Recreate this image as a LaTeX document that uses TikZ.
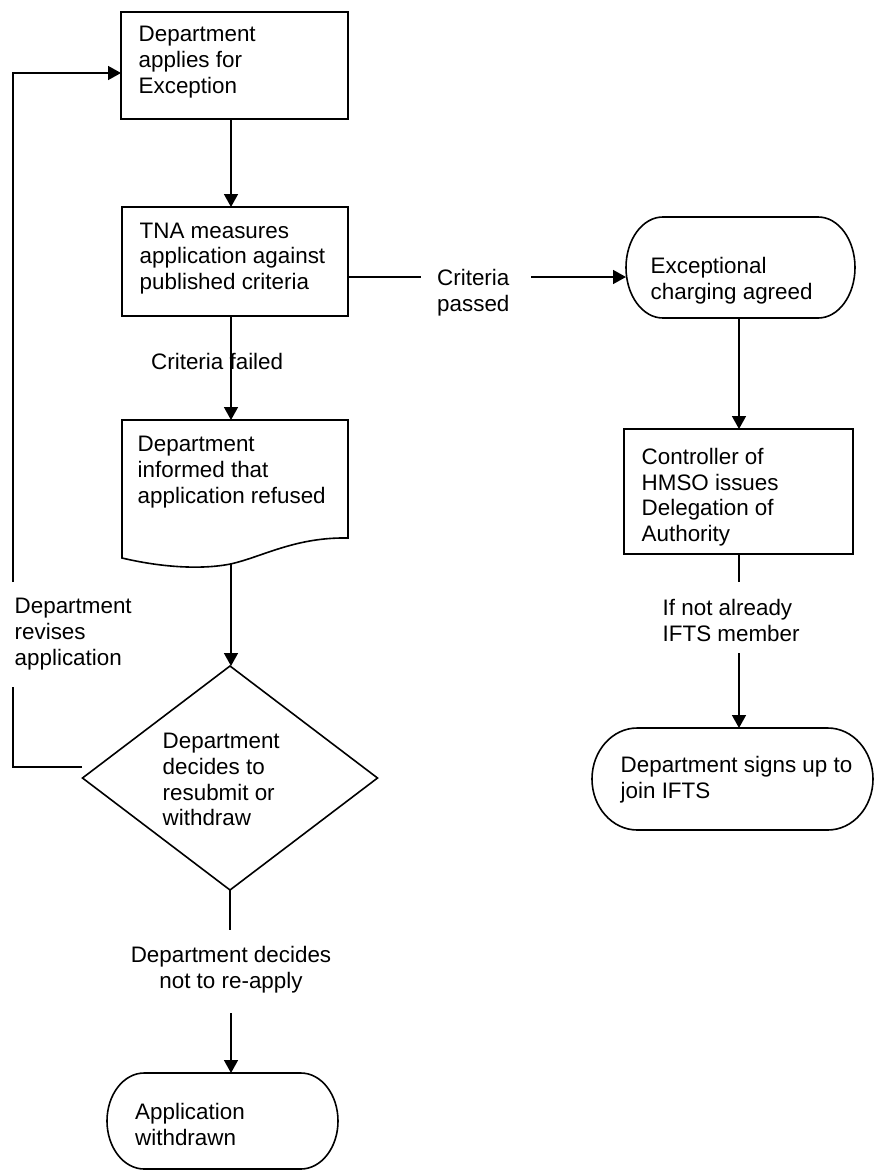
\documentclass[tikz,border=0pt]{standalone}
\usepackage{fontspec}
\setmainfont{Liberation Sans}
\usetikzlibrary{arrows.meta,shapes.geometric,calc}
\newcommand\tfont{\fontsize{22.4}{25.7}\selectfont}
\newcommand\terminal[5]{%
  \pgfmathsetmacro\tmL{#2}\pgfmathsetmacro\tmT{#3}%
  \pgfmathsetmacro\tmR{#4}\pgfmathsetmacro\tmB{#5}%
  \pgfmathsetmacro\tmW{\tmR-\tmL}\pgfmathsetmacro\tmH{\tmB-\tmT}%
  \pgfmathsetmacro\tmRx{0.161*\tmW}\pgfmathsetmacro\tmRy{\tmH/2}%
  \pgfmathsetmacro\tmM{(\tmT+\tmB)/2}%
  \pgfmathsetmacro\tmKx{0.5523*\tmRx}\pgfmathsetmacro\tmKy{0.5523*\tmRy}%
  \node[inner sep=0pt, outer sep=0pt, minimum width=\tmW pt, minimum height=\tmH pt, anchor=north west] (#1) at (\tmL,\tmT) {};%
  \draw[ln] (\tmL+\tmRx,\tmT) -- (\tmR-\tmRx,\tmT)
    .. controls (\tmR-\tmRx+\tmKx,\tmT) and (\tmR,\tmM-\tmKy) .. (\tmR,\tmM)
    .. controls (\tmR,\tmM+\tmKy) and (\tmR-\tmRx+\tmKx,\tmB) .. (\tmR-\tmRx,\tmB)
    -- (\tmL+\tmRx,\tmB)
    .. controls (\tmL+\tmRx-\tmKx,\tmB) and (\tmL,\tmM+\tmKy) .. (\tmL,\tmM)
    .. controls (\tmL,\tmM-\tmKy) and (\tmL+\tmRx-\tmKx,\tmT) .. cycle;%
}
\tikzset{
  ln/.style={line width=1.6pt, draw=black},
  arr/.style={ln, -{Triangle[length=13pt,width=14pt]}},
  boxnode/.style={ln, rectangle, inner sep=0pt, outer sep=0pt, anchor=north west},
  txt/.style={font=\tfont, align=left, inner sep=0pt, anchor=north west, text=black},
  ctxt/.style={font=\tfont, align=center, inner sep=0pt, anchor=north, text=black}
}
\begin{document}
\begin{tikzpicture}[x=1pt,y=-1pt]
\useasboundingbox (0,0) rectangle (875,1171);

% ---- shapes ----
\node[boxnode, minimum width=227pt, minimum height=107pt] (b1) at (121,12) {};
\node[boxnode, minimum width=226pt, minimum height=109pt] (b2) at (122,207) {};
% document shape
\node[inner sep=0pt, outer sep=0pt, minimum width=226pt, minimum height=118pt, anchor=north west] (b3) at (122,420) {};
\draw[ln] (122,420) -- (348,420) -- (348,538)
  .. controls (295,537) and (262,557) .. (230.5,564)
  .. controls (200,570) and (160,567) .. (122,558) -- cycle;
\coordinate (b3w) at (231,564);
\node[ln, diamond, minimum width=295pt, minimum height=224pt, inner sep=0pt, outer sep=0pt] (d) at (230,778) {};
\terminal{t1}{107}{1073}{338}{1169}
\terminal{te}{626}{217}{855}{318}
\node[boxnode, minimum width=229pt, minimum height=125pt] (b4) at (624,429) {};
\terminal{t4}{592}{728}{873}{830}

% ---- texts ----
\node[txt] (tb1) at (138.5,26) {Department\\applies for\\Exception};
\node[txt] (tb2) at (139.5,222.5) {TNA measures\\application against\\published criteria};
\node[txt] (lfail) at (151,353) {Criteria failed};
\node[txt] (lpass) at (437,269) {Criteria\\passed};
\node[txt] (tb3) at (137.5,436) {Department\\informed that\\application refused};
\node[txt] (lrev) at (14.5,598) {Department\\revises\\application};
\node[txt] (td) at (162.5,733) {Department\\decides to\\resubmit or\\withdraw};
\node[ctxt] (lnot) at (231,946) {Department decides\\not to re-apply};
\node[txt] (tt1) at (135,1103) {Application\\withdrawn};
\node[txt] (tte) at (650.5,257) {Exceptional\\charging agreed};
\node[txt] (tb4) at (641.5,448) {Controller of\\HMSO issues\\Delegation of\\Authority};
\node[txt] (lifn) at (662.5,599) {If not already\\IFTS member};
\node[txt] (tt4) at (620.5,756) {Department signs up to\\join IFTS};

% ---- connector coordinates ----
\coordinate (x1) at (231,0);
\coordinate (x2) at (739,0);
\coordinate (h1) at (421,277);
\coordinate (h2) at (531,277);
\coordinate (g1) at (230,930);
\coordinate (g2) at (231,1013);
\coordinate (g4) at (739,582);
\coordinate (g5) at (739,653);
\coordinate (lp1) at (82,767);
\coordinate (lp2) at (13,687);
\coordinate (lp3) at (13,582);
\coordinate (lp4) at (13,73);

% ---- connectors ----
\draw[arr] (b1.south -| x1) -- (b2.north -| x1);
\draw[arr] (b2.south -| x1) -- (b3.north -| x1);
\draw[arr] (b3w) -- (b3w |- d.north);
\draw[ln] (d.south) -- (g1);
\draw[arr] (g2) -- (g2 |- t1.north);
\draw[ln] (lp1) -- (lp1 -| lp2) -- (lp2);
\draw[arr] (lp3) -- (lp4) -- (lp4 -| b1.west);
\draw[ln] (h1 -| b2.east) -- (h1);
\draw[arr] (h2) -- (h2 -| te.west);
\draw[arr] (te.south -| x2) -- (b4.north -| x2);
\draw[ln] (b4.south -| x2) -- (g4);
\draw[arr] (g5) -- (g5 |- t4.north);
\end{tikzpicture}
\end{document}
